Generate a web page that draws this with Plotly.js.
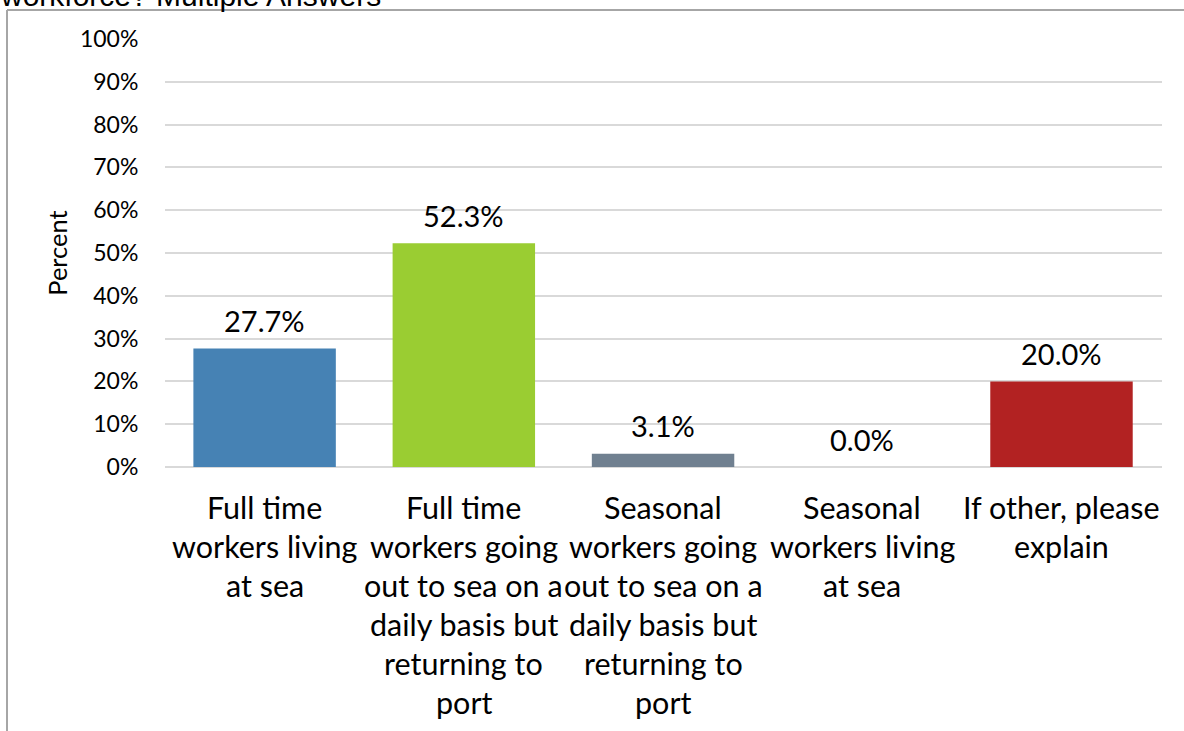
<!DOCTYPE html>
<html>
<head>
<meta charset="utf-8">
<script src="https://cdn.plot.ly/plotly-3.0.1.min.js"></script>
<style>html,body{margin:0;padding:0;background:#fff;}#chart{width:1184px;height:731px;}</style>
</head>
<body>
<div id="chart"></div>
<script>
const categories = [
  "Full time<br>workers living<br>at sea",
  "Full time<br>workers going<br>out to sea on a<br>daily basis but<br>returning to<br>port",
  "Seasonal<br>workers going<br>out to sea on a<br>daily basis but<br>returning to<br>port",
  "Seasonal<br>workers living<br>at sea",
  "If other, please<br>explain"
];
const values = [27.7, 52.3, 3.1, 0.0, 20.0];
const valueLabels = ["27.7%", "52.3%", "3.1%", "0.0%", "20.0%"];
const barColors = ["#4682B4", "#9ACD32", "#708090", "#8B8B83", "#B22222"];
const tickVals = [0, 10, 20, 30, 40, 50, 60, 70, 80, 90, 100];
const tickText = ["0%", "10%", "20%", "30%", "40%", "50%", "60%", "70%", "80%", "90%", "100%"];
const titleText = "workforce? Multiple Answers";
const yTitle = "Percent";

const FONT = "Lato, 'Open Sans', sans-serif";
const L = 165, R = 22, T = 39, B = 264;
const PW = 1184 - L - R, PH = 731 - T - B;

const annotations = [];
categories.forEach((c, i) => {
  annotations.push({
    x: c, y: values[i], xref: "x", yref: "y",
    text: valueLabels[i], showarrow: false,
    yanchor: "middle", yshift: 28,
    font: {family: FONT, size: 29, color: "#000"}
  });
  c.split("<br>").forEach((line, j) => {
    annotations.push({
      x: c, y: 0, xref: "x", yref: "y",
      text: line, showarrow: false,
      yanchor: "middle", yshift: -(40 + 39 * j),
      font: {family: FONT, size: 30.5, color: "#000"}
    });
  });
});
annotations.push({
  x: 0, y: 0, xref: "paper", yref: "paper",
  text: titleText, showarrow: false, xanchor: "left", yanchor: "bottom",
  xshift: -L - 2, yshift: PH + T - 14,
  font: {family: "'Liberation Sans', Arial, sans-serif", size: 30, color: "#000"}
});

const trace = {
  type: "bar",
  x: categories,
  y: values,
  marker: {color: barColors},
  hoverinfo: "skip"
};

const bx = (7 - L) / PW, by = 1 + (T - 10) / PH;
const layout = {
  width: 1184, height: 731,
  margin: {l: L, r: R, t: T, b: B, pad: 0},
  paper_bgcolor: "#fff", plot_bgcolor: "#fff",
  showlegend: false,
  bargap: 0.285,
  xaxis: {
    type: "category", showticklabels: false, showgrid: false,
    zeroline: false, showline: false, fixedrange: true
  },
  yaxis: {
    range: [0, 100], tickvals: tickVals, ticktext: tickText,
    showgrid: true, gridcolor: "#d9d9d9", gridwidth: 2,
    zeroline: true, zerolinecolor: "#d9d9d9", zerolinewidth: 2,
    showline: false,
    ticks: "outside", ticklen: 21, tickcolor: "rgba(0,0,0,0)",
    tickfont: {family: FONT, size: 23, color: "#000"},
    title: {text: yTitle, font: {family: FONT, size: 25.5, color: "#000"}, standoff: 5}
  },
  annotations: annotations,
  shapes: [
    {type: "line", xref: "paper", yref: "paper",
     x0: bx, x1: bx, y0: -1, y1: by,
     line: {color: "#a6a6a6", width: 2}},
    {type: "line", xref: "paper", yref: "paper",
     x0: bx, x1: 1.1, y0: by, y1: by,
     line: {color: "#a6a6a6", width: 2}}
  ]
};

Plotly.newPlot("chart", [trace], layout, {displayModeBar: false, staticPlot: true});
</script>
</body>
</html>
